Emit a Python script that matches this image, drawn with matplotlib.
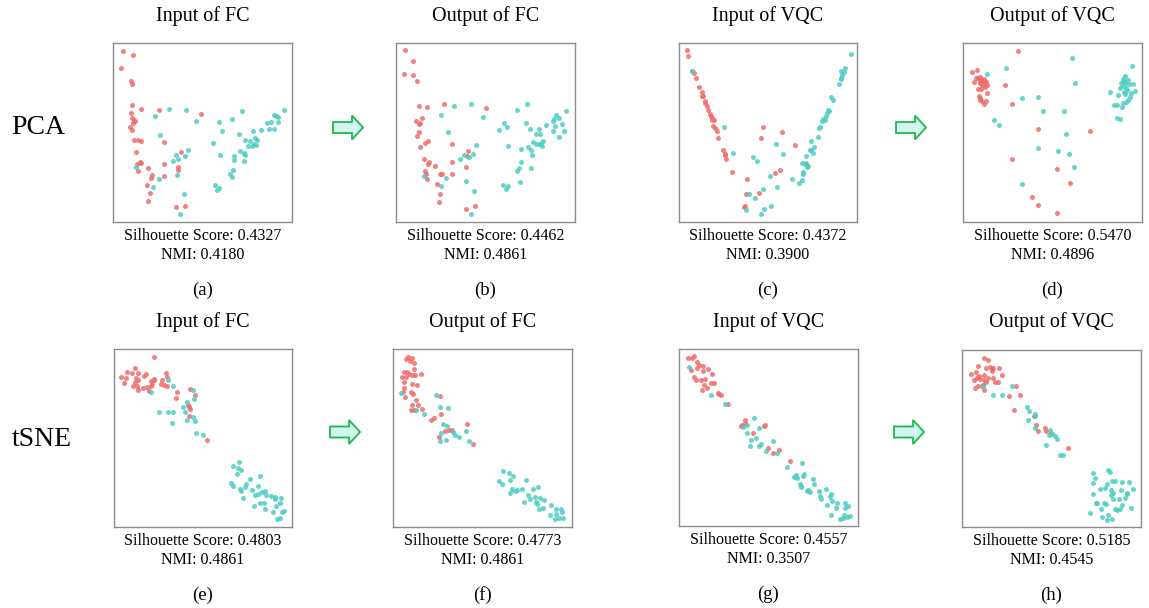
import numpy as np
import matplotlib.pyplot as plt
from matplotlib.patches import FancyArrow

# point positions (pixel units of each panel, y downwards)
a_red = [(37, 32), (68, 45), (33, 84), (61, 122), (64, 130), (65, 195), (92, 206), (146, 209), (272, 222),
         (62, 218), (65, 232), (70, 240), (73, 243), (68, 248), (60, 260), (66, 268), (70, 298), (82, 300),
         (93, 301), (160, 306), (78, 336), (211, 336), (88, 365), (80, 370), (93, 369), (84, 393), (114, 383),
         (160, 372), (204, 381), (203, 389), (126, 405), (122, 412), (161, 408), (110, 433), (120, 458),
         (114, 481), (198, 500), (223, 498)]
a_cyan = [(135, 226), (175, 207), (227, 209), (257, 243), (325, 244), (364, 237), (396, 211), (334, 271),
          (149, 285), (307, 307), (234, 330), (197, 345), (225, 348), (204, 356), (188, 361), (78, 381),
          (329, 345), (387, 282), (428, 272), (452, 270), (470, 248), (482, 245), (490, 224), (496, 227),
          (502, 230), (520, 208), (504, 246), (476, 266), (491, 266), (403, 300), (418, 302), (434, 294),
          (440, 300), (430, 310), (436, 314), (425, 316), (412, 318), (388, 331), (402, 338), (404, 345),
          (372, 347), (370, 360), (402, 363), (368, 389), (358, 400), (366, 410), (199, 405), (145, 415),
          (127, 440), (315, 433), (326, 443), (320, 449), (222, 462), (209, 520)]

b_red = [(55, 32), (79, 64), (51, 102), (79, 107), (90, 124), (96, 197), (120, 201), (170, 193), (297, 205),
         (105, 235), (88, 243), (99, 250), (96, 252), (97, 276), (90, 289), (124, 302), (113, 310), (98, 321),
         (196, 311), (242, 334), (239, 347), (110, 358), (125, 366), (124, 371), (195, 366), (143, 379),
         (237, 381), (113, 393), (118, 402), (158, 401), (166, 401), (196, 401), (120, 415), (149, 430),
         (159, 460), (155, 484), (238, 505), (265, 496)]
b_cyan = [(162, 224), (201, 198), (251, 192), (288, 231), (390, 210), (419, 193), (183, 277), (352, 248),
          (360, 260), (337, 269), (417, 250), (430, 268), (446, 282), (455, 267), (460, 283), (476, 256),
          (498, 243), (506, 225), (515, 233), (502, 238), (525, 252), (498, 273), (503, 257), (537, 212),
          (515, 291), (530, 273), (438, 305), (448, 312), (461, 309), (467, 302), (466, 318), (455, 313),
          (423, 322), (432, 329), (403, 327), (362, 319), (435, 345), (266, 314), (259, 341), (246, 350),
          (230, 345), (220, 358), (402, 365), (396, 383), (391, 392), (433, 383), (111, 408), (178, 412),
          (162, 437), (349, 433), (358, 446), (363, 438), (399, 425), (237, 423), (261, 453), (252, 520)]

c_red = [(42, 32), (45, 48), (58, 95), (62, 100), (69, 115), (79, 141), (87, 157), (91, 167), (88, 168),
         (97, 184), (97, 189), (101, 197), (105, 210), (110, 222), (114, 229), (117, 235), (117, 241),
         (122, 240), (121, 259), (126, 263), (133, 274), (135, 293), (150, 329), (154, 342), (156, 346),
         (159, 358), (175, 396), (268, 260), (264, 295), (326, 277), (365, 316), (220, 416), (320, 389),
         (304, 400), (219, 462), (256, 457), (216, 497), (213, 501)]
c_cyan = [(56, 95), (153, 260), (178, 338), (240, 350), (251, 363), (307, 311), (330, 342), (289, 407),
          (310, 439), (268, 447), (244, 472), (227, 462), (218, 508), (272, 507), (262, 520), (293, 498),
          (356, 416), (378, 428), (385, 418), (388, 396), (390, 402), (386, 370), (394, 373), (398, 368),
          (397, 348), (403, 377), (400, 380), (409, 331), (414, 331), (420, 320), (419, 338), (412, 302),
          (432, 292), (435, 263), (440, 260), (446, 243), (448, 236), (453, 240), (456, 228), (459, 218),
          (463, 210), (465, 212), (472, 172), (478, 180), (495, 133), (503, 118), (501, 114), (506, 105),
          (510, 98), (503, 93), (513, 86), (532, 42)]

d_red = [(175, 34), (37, 96), (51, 92), (48, 116), (43, 127), (55, 115), (62, 112), (66, 120), (72, 118),
         (78, 128), (82, 136), (60, 130), (67, 137), (74, 131), (56, 146), (63, 147), (77, 143), (82, 160),
         (57, 168), (62, 175), (61, 180), (68, 183), (73, 192), (80, 182), (135, 137), (156, 191), (235, 266),
         (389, 273), (155, 357), (292, 387), (330, 428), (216, 470), (234, 495), (292, 518), (62, 123),
         (70, 124)]
d_cyan = [(138, 85), (82, 102), (337, 56), (346, 130), (187, 175), (233, 172), (249, 212), (313, 213),
          (102, 241), (117, 256), (317, 282), (233, 323), (293, 334), (326, 343), (342, 382), (186, 430),
          (515, 80), (494, 108), (490, 125), (503, 122), (494, 130), (505, 134), (517, 134), (487, 140),
          (478, 145), (500, 150), (524, 152), (511, 160), (495, 163), (491, 155), (448, 157), (473, 166),
          (508, 172), (503, 181), (497, 186), (488, 190), (471, 196), (460, 196), (486, 201), (469, 233),
          (478, 238), (481, 129), (488, 117), (497, 145)]

e_red = [(126, 51), (43, 96), (58, 100), (68, 85), (76, 100), (96, 107), (101, 103), (27, 110), (40, 114),
         (34, 128), (72, 113), (67, 125), (78, 121), (62, 139), (75, 139), (78, 150), (91, 143), (103, 141),
         (115, 137), (120, 133), (117, 124), (124, 121), (126, 118), (109, 152), (162, 100), (165, 112),
         (150, 119), (146, 131), (155, 134), (163, 138), (232, 148), (195, 155), (248, 164), (192, 174),
         (226, 196), (229, 202), (233, 206), (231, 229), (285, 300)]
e_cyan = [(167, 119), (181, 138), (116, 156), (241, 151), (246, 178), (224, 185), (211, 202), (217, 215),
          (141, 216), (168, 215), (183, 217), (225, 239), (241, 230), (248, 244), (180, 249), (252, 280),
          (271, 285), (362, 376), (381, 366), (378, 384), (386, 388), (374, 402), (414, 417), (445, 406),
          (357, 428), (362, 438), (385, 445), (388, 453), (403, 432), (400, 439), (437, 436), (419, 450),
          (392, 472), (429, 465), (439, 460), (450, 455), (460, 451), (443, 488), (456, 488), (461, 465),
          (476, 467), (490, 469), (506, 472), (489, 477), (505, 488), (427, 496), (458, 505), (493, 498),
          (484, 515), (516, 512), (509, 516), (494, 537), (504, 534)]

f_red = [(55, 45), (66, 50), (48, 52), (61, 58), (73, 65), (74, 81), (43, 89), (52, 91), (58, 96), (68, 99),
         (77, 98), (93, 97), (38, 104), (48, 106), (42, 121), (67, 125), (82, 130), (44, 137), (41, 150),
         (64, 150), (70, 154), (46, 163), (78, 173), (68, 188), (86, 189), (96, 200), (63, 203), (72, 203),
         (150, 162), (153, 216), (132, 226), (125, 233), (167, 264), (177, 262), (188, 262), (147, 284),
         (233, 245), (251, 304)]
f_cyan = [(34, 153), (140, 158), (150, 195), (174, 198), (80, 203), (103, 215), (160, 245), (173, 250),
          (155, 270), (191, 268), (196, 278), (208, 282), (228, 265), (152, 294), (170, 291), (238, 296),
          (340, 383), (357, 390), (369, 398), (362, 410), (329, 415), (336, 423), (367, 437), (375, 442),
          (383, 441), (362, 450), (398, 438), (409, 410), (430, 437), (444, 432), (414, 455), (420, 466),
          (436, 462), (452, 464), (439, 475), (462, 470), (402, 477), (442, 483), (448, 496), (460, 494),
          (484, 486), (498, 498), (514, 497), (516, 506), (500, 510), (480, 515), (496, 527), (508, 523),
          (520, 522)]

g_red = [(40, 48), (52, 50), (57, 44), (66, 62), (72, 70), (84, 74), (99, 82), (68, 78), (50, 85), (86, 88),
         (111, 98), (59, 107), (64, 113), (78, 113), (92, 112), (108, 122), (117, 123), (89, 129), (97, 139),
         (83, 143), (130, 153), (133, 157), (138, 158), (160, 187), (198, 253), (203, 248), (210, 234),
         (235, 274), (268, 252), (270, 248), (212, 244), (279, 316), (296, 332), (312, 324), (347, 355)]
g_cyan = [(42, 75), (108, 158), (150, 187), (205, 256), (218, 248), (238, 229), (252, 257), (217, 272),
          (244, 287), (228, 292), (227, 310), (253, 311), (260, 305), (275, 327), (295, 297), (308, 331),
          (338, 373), (381, 362), (365, 398), (358, 405), (384, 400), (389, 396), (366, 407), (414, 409),
          (418, 424), (375, 425), (380, 431), (378, 433), (400, 443), (396, 445), (406, 450), (432, 446),
          (454, 440), (470, 454), (437, 460), (440, 470), (466, 463), (473, 475), (456, 486), (487, 480),
          (512, 480), (520, 490), (510, 497), (485, 497), (470, 517), (508, 518), (516, 523), (526, 520),
          (496, 530), (506, 526)]

h_red = [(79, 48), (91, 53), (62, 72), (85, 76), (97, 75), (103, 79), (108, 78), (125, 77), (104, 87),
         (40, 95), (55, 90), (79, 97), (65, 102), (63, 103), (59, 107), (67, 109), (50, 112), (92, 108),
         (107, 108), (112, 120), (121, 118), (80, 113), (86, 118), (134, 97), (78, 127), (75, 132), (63, 132),
         (52, 137), (81, 144), (176, 132), (156, 161), (189, 159), (172, 204), (232, 222), (236, 248),
         (243, 265), (265, 258), (268, 265), (283, 271), (332, 319)]
h_cyan = [(76, 130), (164, 132), (107, 158), (134, 158), (209, 194), (217, 205), (233, 216), (233, 220),
          (213, 234), (235, 258), (279, 264), (276, 278), (285, 274), (295, 282), (301, 290), (267, 309),
          (309, 338), (318, 338), (454, 385), (461, 390), (409, 394), (413, 409), (466, 416), (474, 416),
          (451, 425), (497, 421), (516, 419), (409, 423), (431, 440), (445, 438), (464, 444), (470, 453),
          (492, 443), (529, 442), (510, 452), (510, 456), (408, 455), (463, 460), (468, 470), (486, 470),
          (506, 469), (416, 482), (421, 484), (442, 482), (448, 487), (495, 488), (474, 500), (480, 504),
          (490, 500), (523, 498), (433, 502), (400, 514), (454, 518), (435, 525), (467, 530), (451, 535)]

titles = ["Input of FC", "Output of FC", "Input of VQC", "Output of VQC"] * 2
sil = ["0.4327", "0.4462", "0.4372", "0.5470", "0.4803", "0.4773", "0.4557", "0.5185"]
nmi = ["0.4180", "0.4861", "0.3900", "0.4896", "0.4861", "0.4861", "0.3507", "0.4545"]
tags = ["(a)", "(b)", "(c)", "(d)", "(e)", "(f)", "(g)", "(h)"]
rows = ["PCA", "tSNE"]

reds = [a_red, b_red, c_red, d_red, e_red, f_red, g_red, h_red]
cyans = [a_cyan, b_cyan, c_cyan, d_cyan, e_cyan, f_cyan, g_cyan, h_cyan]

# layout in pixels: box left, top, width, height, and the frame of the read coordinates
W, H = 1149, 608
boxes = [(113, 43, 179, 179), (396, 43, 179, 179), (679, 43, 178, 179), (963, 43, 179, 179),
         (114, 349, 178, 178), (393, 349, 179, 178), (679, 349, 179, 177), (962, 350, 179, 177)]
frames = [((8, 545), (545, 8)), ((27, 564), (545, 10)), ((18, 550), (545, 10)), ((10, 545), (545, 10)),
          ((5, 540), (560, 27)), ((10, 547), (550, 22)), ((13, 550), (550, 22)), ((14, 553), (555, 23))]

plt.rcParams['font.family'] = ['Liberation Serif', 'DejaVu Serif']
fig = plt.figure(figsize=(W / 100, H / 100), dpi=100)

red_c = '#F06C6C'
cyan_c = '#4ECDC4'

for i in range(8):
    l, t, w, h = boxes[i]
    ax = fig.add_axes([l / W, 1 - (t + h) / H, w / W, h / H])
    r = np.array(reds[i])
    c = np.array(cyans[i])
    ax.scatter(r[:, 0], r[:, 1], s=13, color=red_c, alpha=0.85, linewidths=0)
    ax.scatter(c[:, 0], c[:, 1], s=13, color=cyan_c, alpha=0.85, linewidths=0)
    ax.set_xlim(frames[i][0])
    ax.set_ylim(frames[i][1])
    ax.set_xticks([])
    ax.set_yticks([])
    for sp in ax.spines.values():
        sp.set_color('#8c8c8c')
        sp.set_linewidth(1.0)
    cx = (l + w / 2) / W
    ty = 16 if i < 4 else 322
    fig.text(cx, 1 - ty / H, titles[i], ha='center', va='center', fontsize=14.5)
    fig.text(cx, 1 - (t + h + 14) / H, "Silhouette Score: " + sil[i], ha='center', va='center', fontsize=11.5)
    fig.text(cx, 1 - (t + h + 33) / H, "NMI: " + nmi[i], ha='center', va='center', fontsize=11.5)
    fig.text(cx, 1 - (t + h + 68) / H, tags[i], ha='center', va='center', fontsize=13.5)

fig.text(38 / W, 1 - 128 / H, rows[0], ha='center', va='center', fontsize=20)
fig.text(42 / W, 1 - 440 / H, rows[1], ha='center', va='center', fontsize=20)

# block arrows between panels
for x0, y0 in [(333, 127.5), (896, 127.5), (330, 432), (894, 432)]:
    arr = FancyArrow(x0 / W, 1 - y0 / H, 30 / W, 0, width=11 / H, head_width=24 / H,
                     head_length=11 / W, length_includes_head=True, transform=fig.transFigure,
                     facecolor='#d4f5ef', edgecolor='#1fb850', linewidth=1.3)
    fig.add_artist(arr)

fig.savefig("out.png", dpi=100)
